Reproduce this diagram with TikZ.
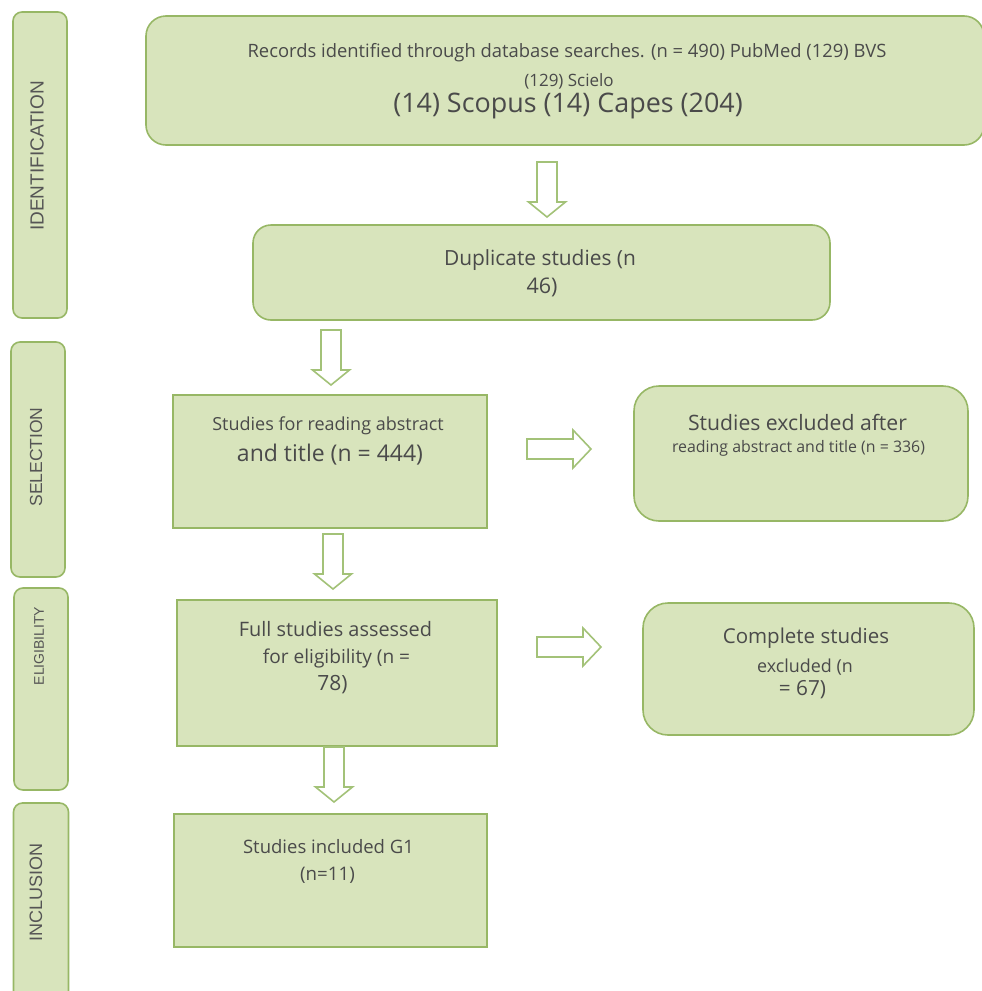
\documentclass[tikz,border=0pt]{standalone}
\usepackage{fontspec}
\setmainfont{Open Sans}
\newfontfamily\labfont{Liberation Sans}
\usetikzlibrary{calc}
\definecolor{boxfill}{HTML}{D8E4BC}
\definecolor{boxline}{HTML}{97B765}
\definecolor{txtc}{HTML}{4A4A4A}
\definecolor{labc}{HTML}{555555}
\definecolor{arrline}{HTML}{A3C278}
\newcommand\fs[1]{\fontsize{#1}{#1}\selectfont}
\newcommand\blkdown[3]{% name, x, ytop
  \coordinate (#1) at (#2,#3);
  \draw[blk] ($(#1)+(-10,0)$) -- ++(20,0) -- ++(0,40) -- ++(8.5,0) -- ++(-18.5,15) -- ++(-18.5,-15) -- ++(8.5,0) -- cycle;}
\newcommand\blkright[3]{% name, xleft, ycenter
  \coordinate (#1) at (#2,#3);
  \draw[blk] ($(#1)+(0,-10)$) -- ++(46,0) -- ++(0,-9) -- ++(18,19) -- ++(-18,19) -- ++(0,-9) -- ++(-46,0) -- cycle;}
\begin{document}
\begin{tikzpicture}[x=1pt,y=-1pt,
  box/.style={draw=boxline, fill=boxfill, line width=1.6pt, inner sep=0pt},
  phase/.style={box, rounded corners=9pt},
  txt/.style={text=txtc, inner sep=0pt, anchor=center},
  lab/.style={text=labc, inner sep=0pt, rotate=90, font=\labfont},
  blk/.style={draw=arrline, fill=white, line width=1.6pt, line join=miter}]
\useasboundingbox (0,0) rectangle (982,991);

% phase boxes
\node[phase, minimum width=54, minimum height=306] (pid) at (40,165) {};
\node[phase, minimum width=54, minimum height=235] (psel) at (38,459.5) {};
\node[phase, minimum width=54, minimum height=202] (pel) at (41,689) {};
\node[phase, minimum width=55, minimum height=200] (pin) at (41,903) {};
\node[lab, font=\labfont\fs{19}] (lid) at (37,156) {IDENTIFICATION};
\node[lab, font=\labfont\fs{17.5}] (lsel) at (36,457) {SELECTION};
\node[lab, font=\labfont\fs{14}] (lel) at (39,646) {ELIGIBILITY};
\node[lab, font=\labfont\fs{18}] (lin) at (36,892) {INCLUSION};

% main boxes
\node[box, rounded corners=20pt, minimum width=838, minimum height=129] (rec) at (565,80.5) {};
\node[box, rounded corners=18pt, minimum width=577, minimum height=95] (dup) at (541.5,272.5) {};
\node[box, minimum width=314, minimum height=133] (read) at (330,461.5) {};
\node[box, rounded corners=25pt, minimum width=334, minimum height=135] (excl) at (801,453.5) {};
\node[box, minimum width=320, minimum height=146] (full) at (337,673) {};
\node[box, rounded corners=25pt, minimum width=331, minimum height=132] (comp) at (808.5,669) {};
\node[box, minimum width=313, minimum height=133] (incl) at (330.5,880.5) {};

% texts
\node[txt, font=\fs{18.4}] (r1) at (567,53) {Records identified through database searches. (n = 490) PubMed (129) BVS};
\node[txt, font=\fs{17}] (r2) at (569,81) {(129) Scielo};
\node[txt, font=\fs{26.9}] (r3) at (568,106) {(14) Scopus (14) Capes (204)};

\node[txt, font=\fs{20.9}] (d1) at (540,260) {Duplicate studies (n};
\node[txt, font=\fs{21.5}] (d2) at (542,287) {46)};

\node[txt, font=\fs{18}] (s1) at (328,426) {Studies for reading abstract};
\node[txt, font=\fs{23}] (s2) at (330,455) {and title (n = 444)};

\node[txt, font=\fs{21.2}] (e1) at (797.5,422) {Studies excluded after};
\node[txt, font=\fs{15.9}] (e2) at (798.5,448) {reading abstract and title (n = 336)};

\node[txt, font=\fs{19.9}] (f1) at (335.5,629) {Full studies assessed};
\node[txt, font=\fs{19.1}] (f2) at (336.5,658) {for eligibility (n =};
\node[txt, font=\fs{21}] (f3) at (332.5,685) {78)};

\node[txt, font=\fs{20.5}] (c1) at (806,638) {Complete studies};
\node[txt, font=\fs{17.9}] (c2) at (805,667) {excluded (n};
\node[txt, font=\fs{20.8}] (c3) at (802.5,690) {= 67)};

\node[txt, font=\fs{18.5}] (i1) at (328.5,847) {Studies included G1};
\node[txt, font=\fs{18.7}] (i2) at (327.5,875) {(n=11)};

% block arrows
\blkdown{a1}{547}{162}
\blkdown{a2}{331}{330}
\blkdown{a3}{333}{534}
\blkdown{a4}{334}{747}
\blkright{b1}{527}{449}
\blkright{b2}{537}{647}
\end{tikzpicture}
\end{document}
